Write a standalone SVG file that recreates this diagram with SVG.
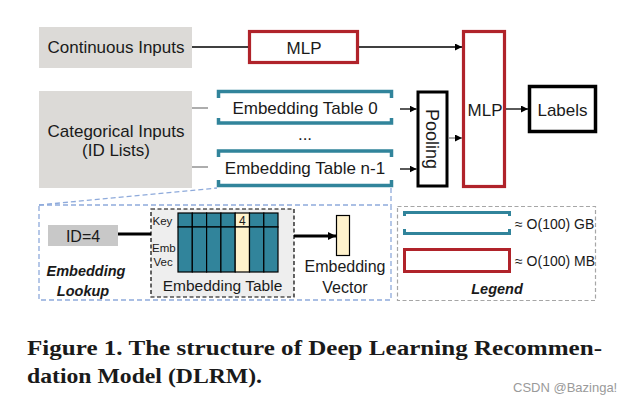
<svg xmlns="http://www.w3.org/2000/svg" width="630" height="404" viewBox="0 0 630 404">
<defs>
<style>
text{font-family:"Liberation Sans",Arial,sans-serif;fill:#1a1a1a}
.lbl{font-size:17px;text-anchor:middle}
.in{fill:#dcdad7}
.red{fill:#fff;stroke:#b0232a;stroke-width:3.2}
.blk{fill:#fff;stroke:#000;stroke-width:3.5}
.teal{fill:none;stroke:#31849b;stroke-width:3.5}
.con{stroke:#000;stroke-width:1.3;fill:none}
.gcon{stroke:#808080;stroke-width:1.3;fill:none}
.bdash{stroke:#8eaadb;stroke-width:1.3;stroke-dasharray:5,3;fill:none}
.cell{fill:#31849b;stroke:#000;stroke-width:1.2}
.hl{fill:#fff2cc;stroke:#000;stroke-width:1.2}
.small{font-size:11.5px}
.bi{font-weight:bold;font-style:italic;font-size:14.5px;text-anchor:middle}
.cap{font-family:"Liberation Serif","Times New Roman",serif;font-weight:bold;font-size:21px}
</style>
<marker id="ah" viewBox="0 0 10 10" refX="10" refY="5" markerWidth="7" markerHeight="7" markerUnits="userSpaceOnUse" orient="auto"><path d="M0,0 L10,5 L0,10 z" fill="#000"/></marker>
<marker id="ahb" viewBox="0 0 10 10" refX="10" refY="5" markerWidth="8" markerHeight="8" markerUnits="userSpaceOnUse" orient="auto"><path d="M0,0 L10,5 L0,10 z" fill="#000"/></marker>
</defs>

<g id="continuous-inputs"><rect class="in" x="39" y="27" width="153" height="41"/><text class="lbl" x="116" y="53">Continuous Inputs</text></g>
<g id="mlp-bottom"><rect class="red" x="249.5" y="31.5" width="108" height="31"/><text class="lbl" x="304" y="54">MLP</text></g>
<g id="categorical-inputs"><rect class="in" x="39" y="91" width="153" height="97"/><text class="lbl" x="116" y="137">Categorical Inputs</text><text class="lbl" x="116" y="156">(ID Lists)</text></g>
<g id="embedding-table-0"><path class="teal" d="M218.5,98 V91.5 H391.5 V98 M218.5,118 V123 H391.5 V118"/><text class="lbl" x="305" y="114">Embedding Table 0</text></g>
<text class="lbl" x="305" y="140">...</text>
<g id="embedding-table-n1"><path class="teal" d="M218.5,157 V151 H391.5 V157 M218.5,180 V185.5 H391.5 V180"/><text class="lbl" x="305" y="174">Embedding Table n-1</text></g>
<g id="pooling"><rect class="blk" x="418" y="92" width="29" height="94" style="stroke-width:3"/><text class="lbl" transform="translate(426,139) rotate(90)" x="0" y="0" style="font-size:18px">Pooling</text></g>
<g id="mlp-top"><rect class="red" x="463.5" y="31.5" width="41" height="155"/><text class="lbl" x="485" y="116">MLP</text></g>
<g id="labels"><rect class="blk" x="529.5" y="86.5" width="66" height="45"/><text class="lbl" x="562.5" y="116">Labels</text></g>

<g id="connectors">
<line class="con" x1="192" y1="47" x2="248" y2="47"/>
<line class="con" x1="359" y1="47" x2="462" y2="47" marker-end="url(#ah)"/>
<line class="gcon" x1="192" y1="108" x2="208" y2="108"/>
<line class="gcon" x1="192" y1="167" x2="208" y2="167"/>
<line class="con" x1="400" y1="109" x2="416.5" y2="109" marker-end="url(#ah)"/>
<line class="con" x1="400" y1="169" x2="416.5" y2="169" marker-end="url(#ah)"/>
<line class="gcon" x1="448" y1="138" x2="462" y2="138" marker-end="url(#ah)"/>
<line class="con" x1="506" y1="109" x2="528" y2="109" marker-end="url(#ah)"/>
<line stroke="#000" stroke-width="3" x1="118" y1="234" x2="152" y2="234"/>
<line stroke="#000" stroke-width="3" x1="294" y1="236" x2="336" y2="236" marker-end="url(#ahb)"/>
</g>

<g id="lookup-frame">
<path class="bdash" d="M39,205 L217,188 M391,188 V205"/>
<rect class="bdash" x="39" y="205" width="352" height="95"/>
</g>

<g id="id-4"><rect x="48" y="225" width="70" height="21" fill="#c8c8c8"/><text x="83" y="242" style="font-size:16px;text-anchor:middle">ID=4</text></g>

<g id="embedding-table">
<rect x="151" y="209" width="143" height="88" fill="#eeeeee" stroke="#000" stroke-width="1.2" stroke-dasharray="4,2.5"/>
<g>
<rect class="cell" x="178" y="213" width="14.3" height="14"/><rect class="cell" x="192.3" y="213" width="14.3" height="14"/><rect class="cell" x="206.6" y="213" width="14.3" height="14"/><rect class="cell" x="220.9" y="213" width="14.3" height="14"/><rect class="hl" x="235.2" y="213" width="14.3" height="14"/><rect class="cell" x="249.5" y="213" width="14.3" height="14"/><rect class="cell" x="263.8" y="213" width="14.2" height="14"/>
<rect class="cell" x="178" y="227" width="14.3" height="45"/><rect class="cell" x="192.3" y="227" width="14.3" height="45"/><rect class="cell" x="206.6" y="227" width="14.3" height="45"/><rect class="cell" x="220.9" y="227" width="14.3" height="45"/><rect class="hl" x="235.2" y="227" width="14.3" height="45"/><rect class="cell" x="249.5" y="227" width="14.3" height="45"/><rect class="cell" x="263.8" y="227" width="14.2" height="45"/>
</g>
<text class="small" x="242.3" y="224.5" style="text-anchor:middle;font-size:12px">4</text>
<text class="small" x="152.5" y="224.5">Key</text>
<text class="small" x="152" y="252">Emb</text>
<text class="small" x="153.5" y="266">Vec</text>
<text x="222.5" y="291" style="font-size:15.5px;text-anchor:middle">Embedding Table</text>
</g>

<g id="embedding-vector"><rect x="336.5" y="215.5" width="13" height="40" fill="#fff2cc" stroke="#000" stroke-width="1.2"/><text x="345" y="272" style="font-size:16px;text-anchor:middle">Embedding</text><text x="345" y="293" style="font-size:16px;text-anchor:middle">Vector</text></g>

<g id="embedding-lookup-label"><text class="bi" x="86" y="276">Embedding</text><text class="bi" x="83" y="296">Lookup</text></g>

<g id="legend">
<rect x="397.5" y="206.5" width="198" height="94" fill="none" stroke="#a6a6a6" stroke-width="1.2" stroke-dasharray="4,2.5"/>
<path class="teal" style="stroke-width:3" d="M404.5,216 V212.5 H509.5 V216 M404.5,229 V233.5 H509.5 V229"/>
<text x="515" y="229" style="font-size:14px">≈ O(100) GB</text>
<rect x="404.5" y="249.5" width="105" height="22" fill="#fff" stroke="#b0232a" stroke-width="3"/>
<text x="515" y="266" style="font-size:14px">≈ O(100) MB</text>
<text class="bi" x="497" y="294">Legend</text>
</g>

<g id="caption">
<text class="cap" x="27" y="355" textLength="575" lengthAdjust="spacingAndGlyphs">Figure 1. The structure of Deep Learning Recommen-</text>
<text class="cap" x="27" y="383" textLength="235" lengthAdjust="spacingAndGlyphs">dation Model (DLRM).</text>
<text x="513" y="392" style="font-size:13px;fill:#9a9a9a">CSDN @Bazinga!</text>
</g>
</svg>
